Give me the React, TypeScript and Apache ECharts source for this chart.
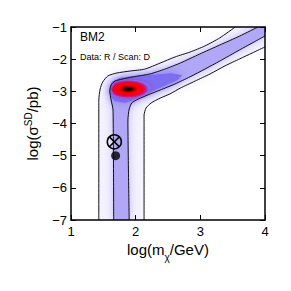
import React, { useEffect, useRef } from 'react';
import * as echarts from 'echarts';

const FONT = 'Liberation Sans, Arial, Helvetica, sans-serif';

// axis ranges / ticks
const xTicks = [1, 2, 3, 4];
const yTicks = [-7, -6, -5, -4, -3, -2, -1];

// contour lines, log(m/GeV), log(sigma/pb)
const outerUpper = [[1.43, -7], [1.43, -3.27], [1.45, -2.93], [1.49, -2.71], [1.57, -2.52], [1.71, -2.43], [1.91, -2.37], [2.14, -2.31], [2.38, -2.12], [2.61, -1.93], [2.84, -1.78], [3.07, -1.59], [3.3, -1.34], [3.54, -1.0]];
const outerLower = [[2.13, -7], [2.13, -3.74], [2.16, -3.52], [2.24, -3.36], [2.38, -3.21], [2.53, -3.08], [2.69, -2.9], [2.92, -2.68], [3.15, -2.46], [3.38, -2.21], [3.61, -1.99], [3.8, -1.81], [4.0, -1.62]];
const innerUpper = [[1.66, -7], [1.65, -3.58], [1.62, -3.27], [1.6, -2.99], [1.62, -2.8], [1.68, -2.68], [1.79, -2.62], [1.96, -2.55], [2.22, -2.46], [2.45, -2.31], [2.69, -2.12], [2.99, -1.84], [3.3, -1.56], [3.61, -1.28], [3.89, -1.0]];
const innerLower = [[1.9, -7], [1.88, -3.89], [1.9, -3.55], [1.94, -3.36], [2.04, -3.24], [2.19, -3.11], [2.38, -2.96], [2.61, -2.77], [2.84, -2.55], [3.07, -2.31], [3.3, -2.06], [3.61, -1.71], [4.0, -1.28]];

// high-density regions near the best-fit peak
const blueRegion = [[1.59, -2.96], [1.63, -2.71], [1.76, -2.58], [1.99, -2.52], [2.3, -2.48], [2.56, -2.44], [2.72, -2.5], [2.65, -2.65], [2.45, -2.83], [2.22, -3.03], [2.02, -3.22], [1.84, -3.36], [1.67, -3.3], [1.61, -3.15]];
const redRegion = [[1.62, -2.93], [1.68, -2.73], [1.82, -2.65], [2.02, -2.65], [2.19, -2.73], [2.25, -2.9], [2.17, -3.08], [1.99, -3.2], [1.79, -3.21], [1.66, -3.11]];

// markers
const benchmarkPoint = [[1.67, -4.57]];
const bestFitPoint = [[1.69, -5.0]];

const xMax = xTicks[xTicks.length - 1];
const yMax = yTicks[yTicks.length - 1];

const outerRegion = [...outerUpper, [xMax, yMax], ...outerLower.slice().reverse()];
const innerRegion = [...innerUpper, [xMax, yMax], ...innerLower.slice().reverse()];

function polyLayer(points: number[][], style: any, z = 2) {
  return {
    type: 'custom',
    coordinateSystem: 'cartesian2d',
    clip: true,
    silent: true,
    z,
    data: [[2, -4]],
    renderItem: (_p: any, api: any) => ({
      type: 'polygon',
      shape: { points: points.map((p) => api.coord(p)), smooth: 0 },
      style,
    }),
  };
}

function contour(points: number[][]) {
  return {
    type: 'line',
    data: points,
    showSymbol: false,
    smooth: 0.2,
    silent: true,
    z: 4,
    lineStyle: { color: '#111', width: 1 },
  };
}

const minus = (v: number) => (v < 0 ? '\u2212' + Math.abs(v) : String(v));

function measure(text: string, size: number) {
  const ctx = document.createElement('canvas').getContext('2d');
  if (!ctx) return text.length * size * 0.55;
  ctx.font = `${size}px ${FONT}`;
  return ctx.measureText(text).width;
}

export default function App() {
  const ref = useRef<HTMLDivElement>(null);
  useEffect(() => {
    if (!ref.current) return;
    const chart = echarts.init(ref.current, null, { renderer: 'svg' });
    const axisLine = { onZero: false, lineStyle: { color: '#000', width: 1.5 } };
    const axisTick = { inside: true, length: 5, lineStyle: { color: '#000', width: 1 } };

    // x-axis title pieces: log(m, subscript chi, /GeV)
    const t1 = 'log(m', t2 = '\u03c7', t3 = '/GeV)';
    const w1 = measure(t1, 15), w2 = measure(t2, 10), w3 = measure(t3, 15);
    const cx = 168, cy = 249;
    const x0 = cx - (w1 + w2 + w3) / 2;

    chart.setOption({
      animation: false,
      backgroundColor: '#fff',
      grid: { left: 71, right: 26, top: 27, bottom: 71 },
      xAxis: [
        {
          type: 'value', min: 1, max: 4, interval: 1, position: 'bottom', z: 6,
          axisLine, axisTick, splitLine: { show: false },
          axisLabel: { fontSize: 13, color: '#000', fontFamily: FONT, margin: 5, formatter: minus },
        },
        {
          type: 'value', min: 1, max: 4, interval: 1, position: 'top', z: 6,
          axisLine, axisTick, splitLine: { show: false }, axisLabel: { show: false },
        },
      ],
      yAxis: [
        {
          type: 'value', min: -7, max: -1, interval: 1, position: 'left', z: 6,
          axisLine, axisTick, splitLine: { show: false },
          axisLabel: { fontSize: 13, color: '#000', fontFamily: FONT, margin: 4, formatter: minus },
          name: 'log(\u03c3{sup|SD}/pb)', nameLocation: 'middle', nameGap: 21, nameRotate: 90,
          nameTextStyle: {
            fontSize: 15, color: '#000', fontFamily: FONT, lineHeight: 18,
            rich: { sup: { fontSize: 10, color: '#000', fontFamily: FONT, verticalAlign: 'top', padding: [0, 0, 10, 0] } },
          },
        },
        {
          type: 'value', min: -7, max: -1, interval: 1, position: 'right', z: 6,
          axisLine, axisTick, splitLine: { show: false }, axisLabel: { show: false },
        },
      ],
      graphic: [
        { type: 'text', left: 80, top: 31, style: { text: 'BM2', fontSize: 12, fontFamily: FONT, fill: '#000' } },
        { type: 'text', left: 80, top: 52, style: { text: 'Data: R / Scan: D', fontSize: 9, fontFamily: FONT, fill: '#000' } },
        { type: 'text', x: x0, y: cy, style: { text: t1, fontSize: 15, fontFamily: FONT, fill: '#000', textAlign: 'left', textVerticalAlign: 'middle' } },
        { type: 'text', x: x0 + w1, y: cy + 8, style: { text: t2, fontSize: 10, fontFamily: FONT, fill: '#000', textAlign: 'left', textVerticalAlign: 'middle' } },
        { type: 'text', x: x0 + w1 + w2, y: cy, style: { text: t3, fontSize: 15, fontFamily: FONT, fill: '#000', textAlign: 'left', textVerticalAlign: 'middle' } },
      ],
      series: [
        polyLayer(outerRegion, { fill: '#f6f4fe' }, 1),
        polyLayer(innerRegion, { fill: '#d2cbfa', shadowBlur: 16, shadowColor: '#dcd6fb' }, 2),
        polyLayer(innerRegion, { fill: '#b0a7f6', shadowBlur: 6, shadowColor: '#c2baf8' }, 2),
        polyLayer(blueRegion, { fill: '#7d6ef1', shadowBlur: 10, shadowColor: '#8a7df3' }, 3),
        polyLayer(redRegion, {
          fill: {
            type: 'radial', x: 0.42, y: 0.5, r: 0.5,
            colorStops: [
              { offset: 0, color: '#000000' },
              { offset: 0.14, color: '#200000' },
              { offset: 0.32, color: '#b00000' },
              { offset: 0.47, color: '#ff0000' },
              { offset: 0.72, color: '#f00020' },
              { offset: 0.88, color: '#c0208f' },
              { offset: 1, color: '#7d6ef1' },
            ],
          },
          shadowBlur: 4, shadowColor: '#a040c0',
        }, 3),
        contour(outerUpper),
        contour(outerLower),
        contour(innerUpper),
        contour(innerLower),
        {
          type: 'custom',
          coordinateSystem: 'cartesian2d',
          z: 5,
          silent: true,
          data: benchmarkPoint,
          renderItem: (_p: any, api: any) => {
            const c = api.coord([api.value(0), api.value(1)]);
            const r = 7;
            const d = r * 0.7071;
            const st = { stroke: '#000', lineWidth: 1.6, fill: 'none' };
            return {
              type: 'group',
              children: [
                { type: 'circle', shape: { cx: c[0], cy: c[1], r }, style: st },
                { type: 'line', shape: { x1: c[0] - d, y1: c[1] - d, x2: c[0] + d, y2: c[1] + d }, style: st },
                { type: 'line', shape: { x1: c[0] - d, y1: c[1] + d, x2: c[0] + d, y2: c[1] - d }, style: st },
              ],
            };
          },
        },
        {
          type: 'scatter', data: bestFitPoint, symbol: 'circle', symbolSize: 9, z: 5, silent: true,
          itemStyle: { color: '#000' },
        },
      ],
    });
    return () => chart.dispose();
  }, []);
  return <div ref={ref} style={{ width: 291, height: 291, position: 'absolute', left: 0, top: 0 }} />;
}
